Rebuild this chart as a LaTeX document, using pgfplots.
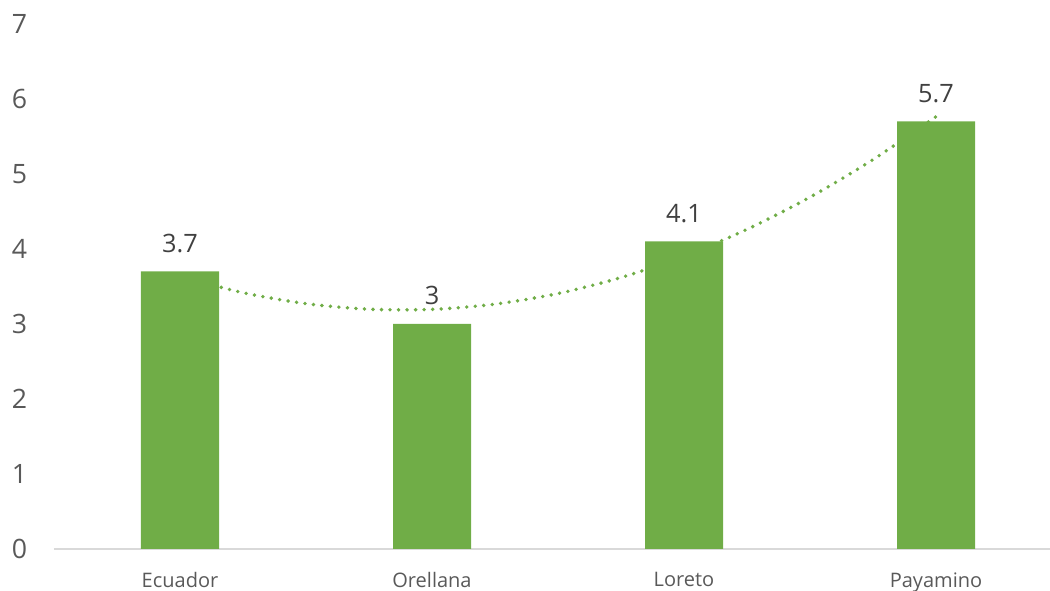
\documentclass[border=0pt]{standalone}
\usepackage{fontspec}
\setmainfont{Open Sans}
\usepackage{pgfplots}
\pgfplotsset{compat=1.18}
\definecolor{bargreen}{HTML}{70AD47}
\definecolor{ticktext}{HTML}{595959}
\definecolor{labeltext}{HTML}{404040}
\definecolor{axisgray}{HTML}{D9D9D9}
\begin{document}
\begin{tikzpicture}
\begin{axis}[
  scale only axis,
  width=747pt, height=393.75pt,
  xmin=-0.5, xmax=3.4524,
  ymin=0, ymax=7,
  xtick={0,1,2,3},
  xticklabels={Ecuador,Orellana,Loreto,Payamino},
  ytick={0,1,2,3,4,5,6,7},
  axis x line*=bottom, axis y line*=left,
  x axis line style={draw=axisgray, line width=1pt},
  y axis line style={draw=none},
  major tick length=0pt,
  /pgf/number format/assume math mode=true,
  yticklabel style={anchor=east, inner sep=0pt, xshift=-20pt, font=\fontsize{20}{24}\selectfont, text=ticktext},
  xticklabel style={anchor=north, inner sep=0pt, yshift=-17.5pt, font=\fontsize{15}{18}\selectfont, text=ticktext},
  clip=false,
]
% polynomial (order 2) trendline through the four values
\addplot[color=bargreen, line width=2.9pt, line cap=round, dash pattern=on 0pt off 6.4pt, smooth, mark=none]
  coordinates {(0,3.635) (0.25,3.4172) (0.5,3.27125) (0.75,3.1972) (1,3.195) (1.25,3.2647) (1.5,3.40625) (1.75,3.6197) (2,3.905) (2.25,4.2622) (2.5,4.69125) (2.75,5.1922) (3,5.765)};
\addplot[ybar, bar width=58.5pt, bar shift=0pt, fill=bargreen, draw=none,
  nodes near coords,
  every node near coord/.append style={anchor=south, inner sep=0pt, yshift=14pt, font=\fontsize{19}{22}\selectfont, text=labeltext},
  /pgf/number format/assume math mode=true]
  coordinates {(0,3.7) (1,3) (2,4.1) (3,5.7)};
\end{axis}
\pgfresetboundingbox
\path[use as bounding box] (-40.5pt,-31.5pt) rectangle (747pt,411.75pt);
\end{tikzpicture}
\end{document}
